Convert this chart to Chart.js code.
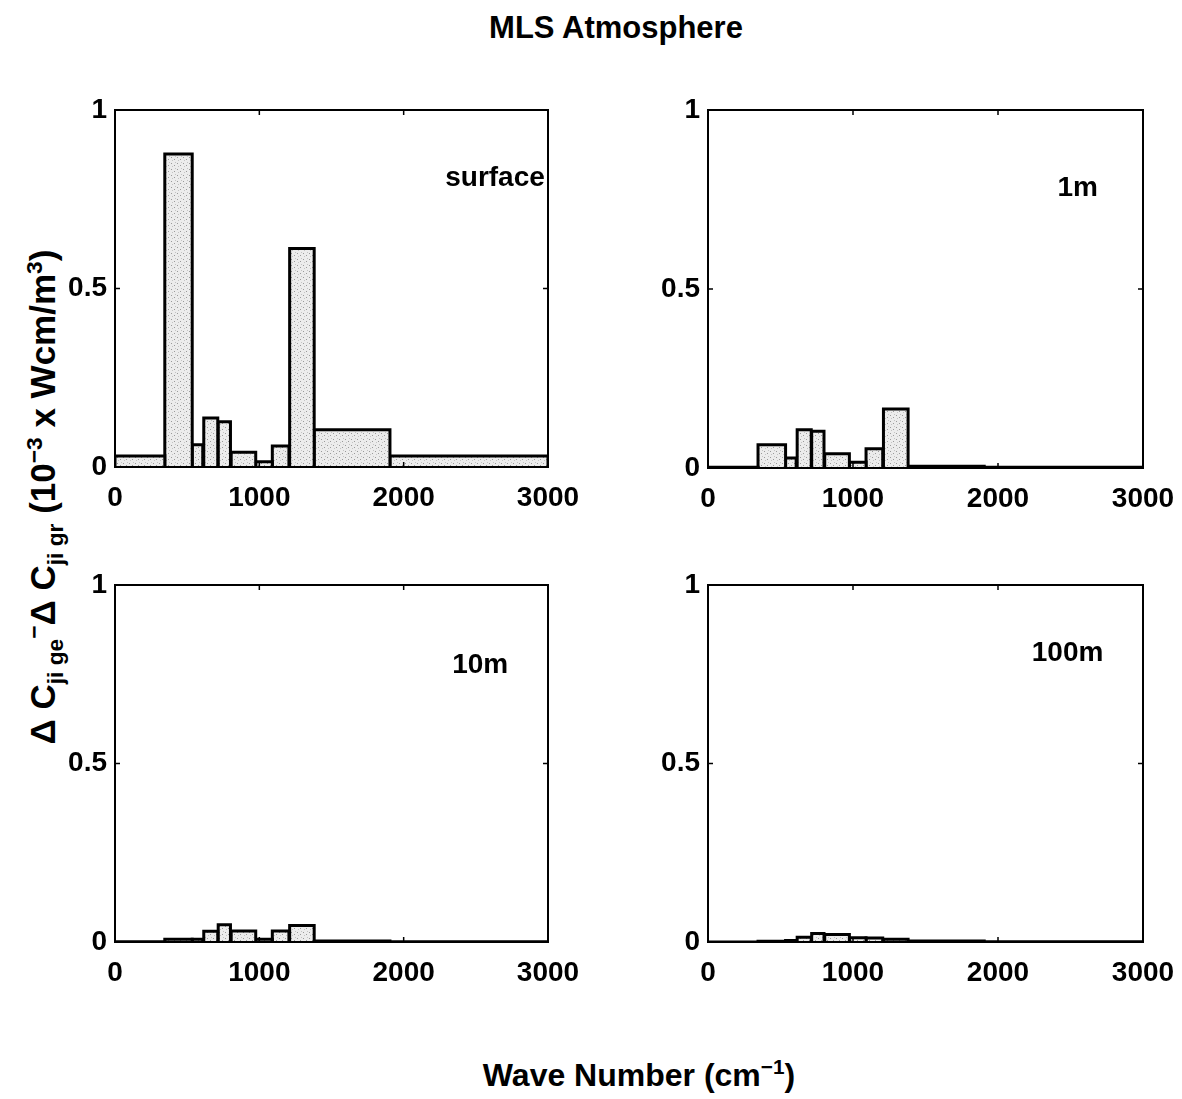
<!DOCTYPE html>
<html>
<head>
<meta charset="utf-8">
<script src="https://cdn.jsdelivr.net/npm/chart.js@4.4.0/dist/chart.umd.min.js"></script>
<style>
  body { margin: 0; background: #fff; width: 1182px; height: 1099px; position: relative; overflow: hidden;
         font-family: 'Liberation Sans', Arial, sans-serif; font-weight: bold; }
  .box { position: absolute; }
  #title { position: absolute; left: 0; width: 1232px; top: 10px; text-align: center; font-size: 31px; }
  #xlab { position: absolute; left: 0; width: 1278px; top: 1055px; text-align: center; font-size: 32px; }
  #ylab { position: absolute; left: 45px; top: 497px; font-size: 35px; white-space: nowrap; line-height: 1;
          transform: translate(-50%, -50%) rotate(-90deg); }
  sub, sup { font-size: 0.65em; }
</style>
</head>
<body>
<div id="title">MLS Atmosphere</div>
<div id="ylab">&Delta; C<sub>ji ge</sub><sup>&minus;</sup>&Delta; C<sub>ji gr</sub> (10<sup>&minus;3</sup> x Wcm/m<sup>3</sup>)</div>
<div id="xlab">Wave Number (cm<sup>&minus;1</sup>)</div>

<div class="box" style="left:50px;top:90px"><canvas id="c0" width="533" height="440"></canvas></div>
<div class="box" style="left:643px;top:90px"><canvas id="c1" width="535" height="441"></canvas></div>
<div class="box" style="left:50px;top:565px"><canvas id="c2" width="533" height="440"></canvas></div>
<div class="box" style="left:643px;top:565px"><canvas id="c3" width="535" height="440"></canvas></div>

<script>
// band edges in cm^-1
const bandLo = [0, 345, 535, 615, 715, 805, 975, 1090, 1210, 1380, 1905];
const bandHi = [345, 535, 608, 712, 800, 975, 1090, 1205, 1380, 1905, 3000];

const surfaceVals = [0.031, 0.877, 0.062, 0.137, 0.127, 0.041, 0.015, 0.059, 0.612, 0.104, 0.031];
const oneMVals    = [0.002, 0.065, 0.028, 0.107, 0.103, 0.040, 0.016, 0.054, 0.165, 0.005, 0.002];
const tenMVals    = [0.001, 0.008, 0.008, 0.030, 0.048, 0.031, 0.008, 0.031, 0.046, 0.003, 0.001];
const hundMVals   = [0.000, 0.002, 0.004, 0.013, 0.024, 0.021, 0.012, 0.011, 0.008, 0.003, 0.001];

const panelLabels = ['surface', '1m', '10m', '100m'];
const labelX = [2633, 2550, 2530, 2480];
const labelY = [0.81, 0.78, 0.775, 0.81];

const xTicks = [0, 1000, 2000, 3000];
const yTicks = [0, 0.5, 1];

const FONT = "'Liberation Sans', Arial, sans-serif";

// speckled grey fill like the printed figure
function makePattern() {
  const c = document.createElement('canvas');
  c.width = 6; c.height = 6;
  const g = c.getContext('2d');
  g.fillStyle = '#ececec';
  g.fillRect(0, 0, 6, 6);
  g.fillStyle = '#9a9a9a';
  g.fillRect(1, 1, 1, 1);
  g.fillRect(4, 3, 1, 1);
  g.fillStyle = '#c4c4c4';
  g.fillRect(2, 4, 1, 1);
  g.fillRect(5, 0, 1, 1);
  return g.createPattern(c, 'repeat');
}
const stipple = makePattern();

const frame = {
  id: 'frame',
  afterDraw(chart) {
    const { ctx, chartArea: a, scales } = chart;
    ctx.save();
    ctx.strokeStyle = '#000';
    ctx.lineWidth = 2;
    ctx.strokeRect(a.left, a.top, a.right - a.left, a.bottom - a.top);
    ctx.lineWidth = 1.5;
    xTicks.forEach(v => {
      const x = scales.x.getPixelForValue(v);
      ctx.beginPath();
      ctx.moveTo(x, a.bottom); ctx.lineTo(x, a.bottom - 5);
      ctx.moveTo(x, a.top); ctx.lineTo(x, a.top + 5);
      ctx.stroke();
    });
    yTicks.forEach(v => {
      const y = scales.y.getPixelForValue(v);
      ctx.beginPath();
      ctx.moveTo(a.left, y); ctx.lineTo(a.left + 5, y);
      ctx.moveTo(a.right, y); ctx.lineTo(a.right - 5, y);
      ctx.stroke();
    });
    const i = chart.options.plugins.frame.panel;
    ctx.fillStyle = '#000';
    ctx.font = 'bold 28px ' + FONT;
    ctx.textAlign = 'center';
    ctx.textBaseline = 'middle';
    ctx.fillText(panelLabels[i], scales.x.getPixelForValue(labelX[i]), scales.y.getPixelForValue(labelY[i]));
    ctx.restore();
  }
};

function noPad(s) {
  s.paddingLeft = 0; s.paddingRight = 0; s.paddingTop = 0; s.paddingBottom = 0;
}

function makePanel(id, vals, panel) {
  const datasets = vals.map((v, k) => ({
    data: [
      { x: bandLo[k], y: 0 }, { x: bandLo[k], y: v },
      { x: bandHi[k], y: v }, { x: bandHi[k], y: 0 }
    ],
    borderColor: '#000',
    borderWidth: 3,
    backgroundColor: stipple,
    fill: 'origin',
    pointRadius: 0,
    tension: 0
  }));

  new Chart(document.getElementById(id), {
    type: 'line',
    data: { datasets },
    plugins: [frame],
    options: {
      responsive: false,
      animation: false,
      layout: { padding: { top: 20, right: 35, left: 0, bottom: 0 } },
      plugins: { legend: { display: false }, tooltip: { enabled: false }, frame: { panel } },
      scales: {
        x: {
          type: 'linear', min: 0, max: 3000,
          afterBuildTicks: s => { s.ticks = xTicks.map(v => ({ value: v })); },
          afterFit: s => { s.height = 63; noPad(s); },
          grid: { display: false, drawTicks: false },
          border: { display: false },
          ticks: { color: '#000', padding: 14, maxRotation: 0, callback: v => String(v),
                   font: { family: FONT, size: 28, weight: 'bold' } }
        },
        y: {
          min: 0, max: 1,
          afterBuildTicks: s => { s.ticks = yTicks.map(v => ({ value: v })); },
          afterFit: s => { s.width = 65; noPad(s); },
          grid: { display: false, drawTicks: false },
          border: { display: false },
          ticks: { color: '#000', padding: 8, callback: v => String(v),
                   font: { family: FONT, size: 28, weight: 'bold' } }
        }
      }
    }
  });
}

makePanel('c0', surfaceVals, 0);
makePanel('c1', oneMVals, 1);
makePanel('c2', tenMVals, 2);
makePanel('c3', hundMVals, 3);
</script>
</body>
</html>
